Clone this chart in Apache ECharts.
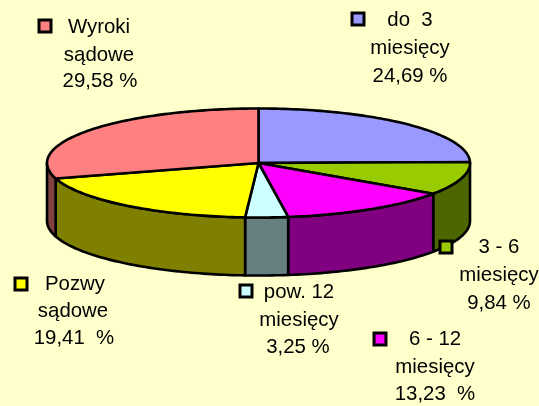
<!DOCTYPE html>
<html>
<head>
<meta charset="utf-8">
<style>
  html, body { margin: 0; padding: 0; background: #FFFFCC; }
  #chart { width: 539px; height: 406px; }
</style>
<script src="https://cdn.jsdelivr.net/npm/echarts@6/dist/echarts.min.js"></script>
</head>
<body>
<div id="chart"></div>
<script>
// clockwise from 12 o'clock
const sliceNames = ["do 3 miesięcy", "3 - 6 miesięcy", "6 - 12 miesięcy", "pow. 12 miesięcy", "Pozwy sądowe", "Wyroki sądowe"];
const sliceValues = [24.69, 9.84, 13.23, 3.25, 19.41, 29.58];
const sliceLabels = [
  ["do  3", "miesięcy", "24,69 %"],
  ["3 - 6", "miesięcy", "9,84 %"],
  ["6 - 12", "miesięcy", "13,23  %"],
  ["pow. 12", "miesięcy", "3,25 %"],
  ["Pozwy", "sądowe", "19,41  %"],
  ["Wyroki", "sądowe", "29,58 %"]
];

const topColors = ["#9999FF", "#99CC00", "#FF00FF", "#CCFFFF", "#FFFF00", "#FF8080"];
const wallColors = ["#4D4D80", "#4D6600", "#800080", "#668080", "#808000", "#804040"];

const cx = 258.5, cy = 163, rx = 211.5, ry = 54.5, depth = 58;

// swatch top-left corner and the centre x / middle y of each text line
const labelLayout = [
  { box: [352, 13], x: [410, 410, 410], y: [20, 48, 76] },
  { box: [440, 241], x: [499, 499, 499], y: [247, 275, 303] },
  { box: [374, 333], x: [435, 435, 435], y: [339, 367, 394] },
  { box: [240, 285], x: [299, 299, 298], y: [292, 320, 347] },
  { box: [15, 278], x: [75, 73, 74], y: [284, 311, 338] },
  { box: [39, 20], x: [99, 99, 100], y: [27, 55, 81] }
];

const total = sliceValues.reduce(function (p, v) { return p + v; }, 0);

function rimPoint(angle, dy) {
  return [cx + rx * Math.sin(angle), cy - ry * Math.cos(angle) + dy];
}

function arcPoints(a0, a1, dy) {
  const steps = Math.max(2, Math.ceil(Math.abs(a1 - a0) / 0.02));
  const pts = [];
  for (let i = 0; i <= steps; i++) {
    pts.push(rimPoint(a0 + (a1 - a0) * i / steps, dy));
  }
  return pts;
}

const lineStyle = { stroke: "#000", lineWidth: 2.6, lineJoin: "round" };

function renderWall(params, api) {
  const before = sliceValues.slice(0, params.dataIndex).reduce(function (p, v) { return p + v; }, 0);
  const a0 = Math.max(before / total * 2 * Math.PI, Math.PI / 2);
  const a1 = Math.min((before + api.value(0)) / total * 2 * Math.PI, Math.PI * 1.5);
  if (a1 <= a0) {
    return { type: "group", children: [] };
  }
  return {
    type: "polygon",
    shape: { points: arcPoints(a0, a1, 0).concat(arcPoints(a1, a0, depth)) },
    style: Object.assign({ fill: wallColors[params.dataIndex] }, lineStyle)
  };
}

function renderTop(params, api) {
  const before = sliceValues.slice(0, params.dataIndex).reduce(function (p, v) { return p + v; }, 0);
  const a0 = before / total * 2 * Math.PI;
  const a1 = (before + api.value(0)) / total * 2 * Math.PI;
  return {
    type: "polygon",
    shape: { points: [[cx, cy]].concat(arcPoints(a0, a1, 0)) },
    style: Object.assign({ fill: topColors[params.dataIndex] }, lineStyle)
  };
}

const graphics = [];
sliceLabels.forEach(function (lines, i) {
  const l = labelLayout[i];
  graphics.push({
    type: "rect",
    z: 100,
    shape: { x: l.box[0], y: l.box[1], width: 12, height: 12 },
    style: { fill: topColors[i], stroke: "#000", lineWidth: 3 }
  });
  lines.forEach(function (line, j) {
    graphics.push({
      type: "text",
      z: 100,
      x: l.x[j],
      y: l.y[j],
      style: {
        text: line,
        fill: "#000",
        font: '20.4px "Liberation Sans", Arial, sans-serif',
        textAlign: "center",
        textVerticalAlign: "middle"
      }
    });
  });
});

const data = sliceValues.map(function (v, i) {
  return { name: sliceNames[i], value: [v] };
});

const chart = echarts.init(document.querySelector("#chart"), null, { renderer: "canvas" });
chart.setOption({
  animation: false,
  backgroundColor: "#FFFFCC",
  series: [
    { type: "custom", coordinateSystem: "none", renderItem: renderWall, data: data, silent: true, z: 1 },
    { type: "custom", coordinateSystem: "none", renderItem: renderTop, data: data, silent: true, z: 2 }
  ],
  graphic: { elements: graphics, z: 100 }
});
</script>
</body>
</html>
